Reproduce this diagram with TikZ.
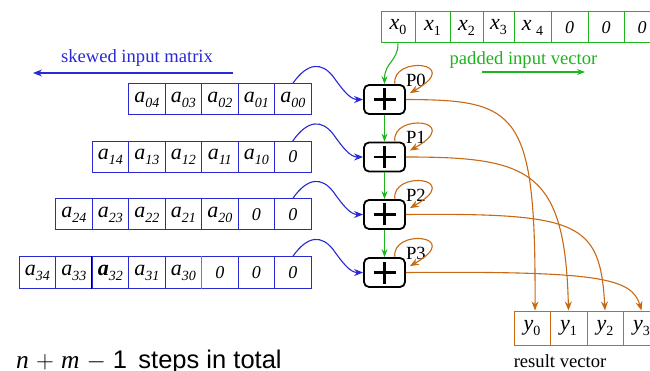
\documentclass[tikz,border=0pt]{standalone}
\usepackage{fontspec}
\setmainfont{Liberation Serif}
\newfontfamily\sanslab{Liberation Sans}
\usetikzlibrary{arrows.meta,calc}
\definecolor{mblue}{RGB}{40,40,215}
\definecolor{mgreen}{RGB}{30,180,30}
\definecolor{morange}{RGB}{200,105,20}
\newcommand\mya[1]{{\fontsize{22}{22}\selectfont\itshape a}\raisebox{-5pt}{\fontsize{14}{14}\selectfont\itshape #1}}
\newcommand\myab[1]{{\fontsize{22}{22}\selectfont\bfseries\itshape a}\raisebox{-5pt}{\fontsize{14}{14}\selectfont\itshape #1}}
\newcommand\myx[1]{{\fontsize{22}{22}\selectfont\itshape x}\raisebox{-5pt}{\fontsize{14}{14}\selectfont #1}}
\newcommand\myy[1]{{\fontsize{22}{22}\selectfont\itshape y}\raisebox{-5pt}{\fontsize{14}{14}\selectfont #1}}
\newcommand\myz{{\fontsize{18}{18}\selectfont\itshape 0}}
\begin{document}
\begin{tikzpicture}[x=1pt,y=-1pt,font=\fontsize{18.6}{20}\selectfont,
  mcell/.style={draw=mblue,line width=1pt,minimum width=36.5pt,minimum height=31pt,inner sep=0pt},
  vcell/.style={draw=mgreen,line width=1pt,minimum height=31pt,inner sep=0pt},
  ycell/.style={draw=morange,line width=1pt,minimum height=34pt,inner sep=0pt},
  adder/.style={draw,line width=1.8pt,rounded corners=5pt,minimum width=41pt,minimum height=29pt,inner sep=0pt,
    path picture={\draw[line width=2.3pt] ([xshift=-11pt]path picture bounding box.center) -- ([xshift=11pt]path picture bounding box.center);
      \draw[line width=2.3pt] ([yshift=-11pt]path picture bounding box.center) -- ([yshift=11pt]path picture bounding box.center);}},
  barrow/.style={draw=mblue,line width=1.1pt,-{Stealth[length=9pt,width=7pt]}},
  garrow/.style={draw=mgreen,line width=1.1pt,-{Stealth[length=8pt,width=6pt]}},
  oarrow/.style={draw=morange,line width=1.1pt,-{Stealth[length=9pt,width=7pt]}},
  plabel/.style={anchor=base west,inner sep=0pt}]
\useasboundingbox (0,0) rectangle (650,371);
% matrix rows
\foreach \t [count=\k from 0] in {\mya{00},\mya{01},\mya{02},\mya{03},\mya{04}}
  \node[mcell] (r0c\k) at ({292.75-36.5*\k},99.5) {\t};
\foreach \t [count=\k from 0] in {\myz,\mya{10},\mya{11},\mya{12},\mya{13},\mya{14}}
  \node[mcell] (r1c\k) at ({292.75-36.5*\k},157) {\t};
\foreach \t [count=\k from 0] in {\myz,\myz,\mya{20},\mya{21},\mya{22},\mya{23},\mya{24}}
  \node[mcell] (r2c\k) at ({292.75-36.5*\k},214.5) {\t};
\foreach \t [count=\k from 0] in {\myz,\myz,\myz,\mya{30},\mya{31},\myab{32},\mya{33},\mya{34}}
  \node[mcell] (r3c\k) at ({292.75-36.5*\k},272.5) {\t};
\draw[black,line width=1pt] (r3c5.north west) -- (r3c5.south west);
\draw[gray,line width=1pt] (r3c2.north west) -- (r3c2.south west);
% adders
\node[adder] (p0) at (384.5,99.5) {};
\node[adder] (p1) at (384.5,157) {};
\node[adder] (p2) at (384.5,214.5) {};
\node[adder] (p3) at (384.5,272.5) {};
\foreach \i in {0,1,2,3}{
  \node[plabel] (l\i) at ([yshift=-2pt]p\i.north east) {P\i};
  \draw[oarrow] ([xshift=-11pt]p\i.north east) .. controls ($(p\i.north east)+(-15,-29)$) and ($(p\i.north east)+(59,-22)$) .. ([xshift=4pt,yshift=-9pt]p\i.north east);
  \draw[barrow] (r\i c0.north) .. controls ($(p\i.west)+(-55,-38)$) and ($(p\i.west)+(-41,-37)$) .. ($(p\i.west)+(-30,-23)$)
     .. controls ($(p\i.west)+(-20,-9)$) and ($(p\i.west)+(-13,0)$) .. (p\i.west);
}
% input vector
\node[vcell,minimum width=34pt] (v0) at (398,27.5) {\myx{0}};
\node[vcell,minimum width=35pt] (v1) at (432.5,27.5) {\myx{1}};
\node[vcell,minimum width=33pt] (v2) at (466.5,27.5) {\myx{2}};
\node[vcell,minimum width=31pt] (v3) at (498.5,27.5) {\myx{3}};
\node[vcell,minimum width=37pt] (v4) at (532.5,27.5) {\myx{\,\,4}};
\node[vcell,minimum width=37pt] (v5) at (569.5,27.5) {\myz};
\node[vcell,minimum width=36pt] (v6) at (606,27.5) {\myz};
\node[vcell,minimum width=36pt] (v7) at (642,27.5) {\myz};
% result vector
\node[ycell,minimum width=36pt] (y0) at (532,328) {\myy{0}};
\node[ycell,minimum width=37pt] (y1) at (568.5,328) {\myy{1}};
\node[ycell,minimum width=36pt] (y2) at (605,328) {\myy{2}};
\node[ycell,minimum width=37pt] (y3) at (641.5,328) {\myy{3}};
% green flow
\draw[garrow] (v0.south) .. controls ($(v0.south)+(0,18)$) and ($(p0.north)+(0,-22)$) .. (p0.north);
\draw[garrow] (p0.south) -- (p1.north);
\draw[garrow] (p1.south) -- (p2.north);
\draw[garrow] (p2.south) -- (p3.north);
% outputs
\draw[oarrow] (p0.east) .. controls (518,100) and (536,110) .. ([xshift=3pt]y0.north);
\draw[oarrow] (p1.east) .. controls (530,157) and (565,170) .. (y1.north);
\draw[oarrow] (p2.east) .. controls (580,213) and (600,222) .. (y2.north);
\draw[oarrow] (p3.east) .. controls (600,271) and (632,278) .. (y3.north);
% labels
\node[anchor=base,text=mblue,inner sep=0pt] (tm) at (137,63) {skewed input matrix};
\coordinate (ma) at (233,73);
\coordinate (mb) at (33,73);
\draw[barrow] (ma) -- (mb);
\node[anchor=base,text=mgreen,inner sep=0pt] (tv) at (523.5,65) {padded input vector};
\coordinate (va) at (482,72);
\coordinate (vb) at (585,72);
\draw[garrow] (va) -- (vb);
\node[anchor=base,inner sep=0pt] (tr) at (560,367) {result vector};
\node[anchor=base west,inner sep=0pt] (steps) at (16,368) {\fontsize{25.5}{27}\selectfont\textit{n}\;$+$\;\textit{m}\;$-$\;{\sanslab 1\, steps in total}};
\end{tikzpicture}
\end{document}
